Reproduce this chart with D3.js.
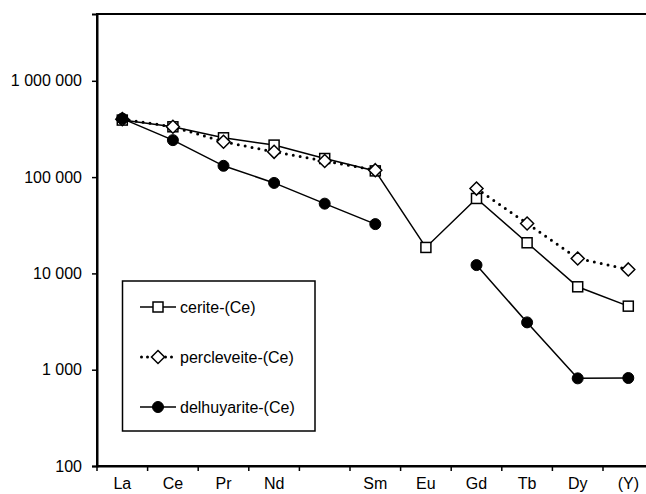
<!DOCTYPE html>
<html>
<head>
<meta charset="utf-8">
<script src="https://cdn.jsdelivr.net/npm/d3@7"></script>
<style>
html,body{margin:0;padding:0;background:#fff;}
svg{display:block;font-family:"Liberation Sans",Arial,sans-serif;}
</style>
</head>
<body>
<svg id="chart" width="646" height="494"></svg>
<script>
const categories = ["La","Ce","Pr","Nd","Pm","Sm","Eu","Gd","Tb","Dy","Y"];
const tickLabels = ["La","Ce","Pr","Nd","","Sm","Eu","Gd","Tb","Dy","(Y)"];
const yTicks = [100, 1000, 10000, 100000, 1000000];
const seriesNames = ["cerite-(Ce)","percleveite-(Ce)","delhuyarite-(Ce)"];
const cerite      = [391000, 333000, 256000, 215000, 156000, 116000, 18600, 60000, 20800, 7260, 4570];
const percleveite = [400000, 333000, 233000, 183000, 147000, 118000, null, 76000, 33000, 14300, 11000];
const delhuyarite = [405000, 242000, 131000, 87000, 53000, 32500, null, 12200, 3100, 813, 820];

const svg = d3.select("#chart");
const mLeft = 97, mTop = 14, mBottom = 466, mRight = 653.6;
const x = d3.scaleBand().domain(categories).range([mLeft, mRight]).paddingInner(0).paddingOuter(0);
const y = d3.scaleLog().domain([100, 4.94e6]).range([mBottom, mTop]);

// frame
svg.append("rect").attr("x", mLeft).attr("y", mTop).attr("width", mRight-mLeft).attr("height", mBottom-mTop)
  .attr("fill","none").attr("stroke","#000").attr("stroke-width",2);

// y axis
const fmt = v => d3.format(",")(v).replace(/,/g, " ");
const yAxis = d3.axisLeft(y).tickValues(yTicks).tickFormat(fmt).tickSize(5).tickPadding(10);
const gy = svg.append("g").attr("transform", `translate(${mLeft},0)`).call(yAxis);
gy.select(".domain").attr("stroke-width",2);
gy.selectAll(".tick line").attr("stroke-width",1.5);
gy.selectAll("text").attr("font-size",16).attr("fill","#000").attr("font-family","Liberation Sans, Arial, sans-serif");

// x axis labels
const xAxis = d3.axisBottom(x).tickSize(0).tickPadding(12).tickFormat((d,i)=>tickLabels[i]);
const gx = svg.append("g").attr("transform", `translate(0,${mBottom})`).call(xAxis);
gx.select(".domain").attr("stroke-width",2);
gx.selectAll("text").attr("font-size",16).attr("fill","#000").attr("font-family","Liberation Sans, Arial, sans-serif");
// boundary ticks
const bounds = categories.map(c => x(c)).concat([mRight]);
svg.append("g").selectAll("line").data(bounds).join("line")
  .attr("x1", d=>d).attr("x2", d=>d).attr("y1", mBottom).attr("y2", mBottom+5)
  .attr("stroke","#000").attr("stroke-width",1.5);

const cx = c => x(c) + x.bandwidth()/2;
const series = [
  {name: seriesNames[0], values: cerite, dash: null, marker: "square"},
  {name: seriesNames[1], values: percleveite, dash: "0 7", marker: "diamond"},
  {name: seriesNames[2], values: delhuyarite, dash: null, marker: "circle"}
];

function drawMarker(g, type, px, py) {
  if (type === "square") {
    g.append("rect").attr("x", px-5).attr("y", py-5).attr("width",10).attr("height",10)
      .attr("fill","#fff").attr("stroke","#000").attr("stroke-width",1.5);
  } else if (type === "diamond") {
    const r = 6.5;
    g.append("path").attr("d", `M${px},${py-r}L${px+r},${py}L${px},${py+r}L${px-r},${py}Z`)
      .attr("fill","#fff").attr("stroke","#000").attr("stroke-width",1.5);
  } else {
    g.append("circle").attr("cx",px).attr("cy",py).attr("r",5.5).attr("fill","#000").attr("stroke","#000").attr("stroke-width",1);
  }
}

series.forEach(s => {
  const g = svg.append("g");
  const pts = categories.map((c,i) => ({c, v: s.values[i]}));
  const line = d3.line().defined(d => d.v != null).x(d => cx(d.c)).y(d => y(d.v));
  const p = g.append("path").attr("d", line(pts)).attr("fill","none").attr("stroke","#000");
  if (s.dash) {
    p.attr("stroke-width",3).attr("stroke-dasharray", s.dash).attr("stroke-linecap","round");
  } else {
    p.attr("stroke-width",1.5);
  }
  pts.filter(d => d.v != null).forEach(d => drawMarker(g, s.marker, cx(d.c), y(d.v)));
});

// legend
const lg = svg.append("g");
lg.append("rect").attr("x",122.5).attr("y",281).attr("width",192.5).attr("height",150)
  .attr("fill","#fff").attr("stroke","#000").attr("stroke-width",1.5);
series.forEach((s,i) => {
  const ly = 307 + i*50;
  const l = lg.append("line").attr("x1",140).attr("x2",176).attr("y1",ly).attr("y2",ly).attr("stroke","#000");
  if (s.dash) l.attr("stroke-width",3).attr("stroke-dasharray","0 6").attr("stroke-linecap","round").attr("x1",141.5);
  else l.attr("stroke-width",1.5);
  drawMarker(lg, s.marker, 158, ly);
  lg.append("text").attr("x",180).attr("y",ly).attr("dy","0.35em").attr("font-size",16).attr("fill","#000").text(s.name);
});
</script>
</body>
</html>
